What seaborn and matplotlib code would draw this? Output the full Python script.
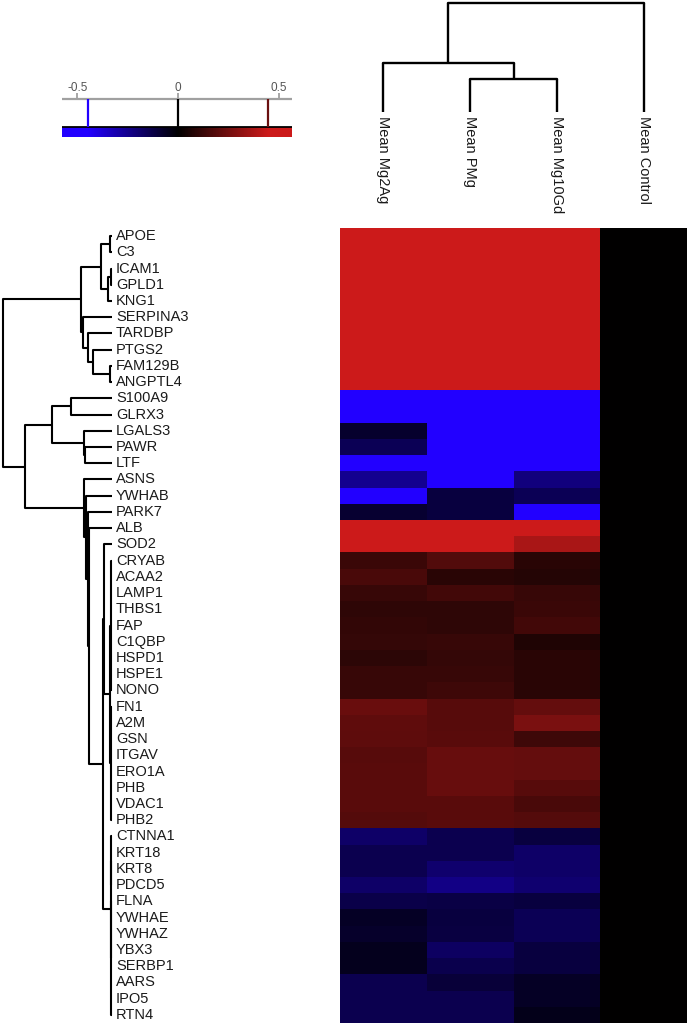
import numpy as np
import pandas as pd
import matplotlib
matplotlib.use("Agg")
import matplotlib.pyplot as plt
import matplotlib.transforms as mtransforms
from matplotlib.colors import LinearSegmentedColormap
import seaborn as sns

# row / column labels
genes = ["APOE", "C3", "ICAM1", "GPLD1", "KNG1", "SERPINA3", "TARDBP", "PTGS2",
         "FAM129B", "ANGPTL4", "S100A9", "GLRX3", "LGALS3", "PAWR", "LTF", "ASNS",
         "YWHAB", "PARK7", "ALB", "SOD2", "CRYAB", "ACAA2", "LAMP1", "THBS1", "FAP",
         "C1QBP", "HSPD1", "HSPE1", "NONO", "FN1", "A2M", "GSN", "ITGAV", "ERO1A",
         "PHB", "VDAC1", "PHB2", "CTNNA1", "KRT18", "KRT8", "PDCD5", "FLNA", "YWHAE",
         "YWHAZ", "YBX3", "SERBP1", "AARS", "IPO5", "RTN4"]
groups = ["Mean Mg2Ag", "Mean PMg", "Mean Mg10Gd", "Mean Control"]

mg2ag = [0.62, 0.60, 0.55, 0.56, 0.58, 0.52, 0.50, 0.49, 0.48, 0.48,
         -0.55, -0.53, -0.08, -0.15, -0.48, -0.25, -0.47, -0.085, 0.47, 0.46,
         0.13, 0.16, 0.12, 0.10, 0.11, 0.115, 0.095, 0.12, 0.12,
         0.23, 0.21, 0.205, 0.19, 0.195, 0.195, 0.195, 0.185,
         -0.18, -0.14, -0.14, -0.18, -0.13, -0.065, -0.075, -0.05, -0.05, -0.14, -0.14, -0.14]
pmg = [0.58, 0.57, 0.52, 0.53, 0.55, 0.50, 0.48, 0.47, 0.47, 0.46,
       -0.52, -0.50, -0.52, -0.50, -0.50, -0.48, -0.11, -0.11, 0.47, 0.46,
       0.18, 0.09, 0.145, 0.10, 0.10, 0.12, 0.115, 0.12, 0.135,
       0.19, 0.19, 0.195, 0.225, 0.225, 0.225, 0.195, 0.195,
       -0.14, -0.14, -0.19, -0.235, -0.12, -0.11, -0.115, -0.17, -0.135, -0.10, -0.14, -0.14]
mg10gd = [0.55, 0.56, 0.54, 0.54, 0.52, 0.49, 0.47, 0.46, 0.46, 0.46,
          -0.50, -0.49, -0.50, -0.48, -0.47, -0.22, -0.15, -0.46, 0.46, 0.37,
          0.09, 0.08, 0.12, 0.13, 0.145, 0.07, 0.09, 0.09, 0.09,
          0.22, 0.27, 0.135, 0.22, 0.22, 0.19, 0.16, 0.185,
          -0.11, -0.18, -0.18, -0.195, -0.11, -0.15, -0.15, -0.11, -0.11, -0.065, -0.065, -0.045]
control = [0.0] * len(genes)

# dendrograms: (height, child, child, ...), leaves are labels
va = tuple([0.01] + genes[20:29])
vb = tuple([0.008] + genes[29:37])
l1 = tuple([0.008] + genes[37:41])
l2 = tuple([0.006] + genes[41:49])
row_tree = (1.0,
            (0.287,
             (0.102, (0.0185, "APOE", "C3"), (0.037, (0.005, "ICAM1", "GPLD1"), "KNG1")),
             (0.269, "SERPINA3",
              (0.222, "TARDBP", (0.176, "PTGS2", (0.0185, "FAM129B", "ANGPTL4"))))),
            (0.796,
             (0.546, (0.38, "S100A9", "GLRX3"), (0.259, "LGALS3", (0.25, "PAWR", "LTF"))),
             (0.259, "ASNS",
              (0.241, "YWHAB",
               (0.222, "PARK7",
                (0.213, "ALB",
                 (0.086,
                  (0.074, "SOD2", (0.015, va, vb)),
                  (0.01, l1, l2))))))))
col_tree = (1.0, (0.45, "Mean Mg2Ag", (0.303, "Mean PMg", "Mean Mg10Gd")), "Mean Control")

cbar_ticks = [-0.5, 0, 0.5]
cbar_marks = [-0.45, 0, 0.45]
mark_colors = ["#2200ff", "#000000", "#6a1010"]

df = pd.DataFrame({groups[0]: mg2ag, groups[1]: pmg, groups[2]: mg10gd, groups[3]: control},
                  index=genes)

sns.set_style("white")
plt.rcParams["font.family"] = ["Liberation Sans", "DejaVu Sans"]

cmap = LinearSegmentedColormap.from_list("bkr", ["#2200ff", "#000000", "#cc1a1a"])
W, H = 688, 1026
fig = plt.figure(figsize=(W / 100, H / 100), dpi=100)


def px_axes(x0, y0, x1, y1):
    return fig.add_axes([x0 / W, 1 - y1 / H, (x1 - x0) / W, (y1 - y0) / H])


def draw_tree(ax, node, pos, vertical):
    # returns (position, height) of node; vertical=True -> column dendrogram
    if isinstance(node, str):
        return pos[node], 0.0
    h = node[0]
    kids = [draw_tree(ax, k, pos, vertical) for k in node[1:]]
    ps = [p for p, _ in kids]
    for p, kh in kids:
        if vertical:
            ax.plot([p, p], [kh, h], color="black", lw=1.7, clip_on=False, solid_capstyle="butt")
        else:
            ax.plot([kh, h], [p, p], color="black", lw=1.5, clip_on=False, solid_capstyle="butt")
    if vertical:
        ax.plot([min(ps), max(ps)], [h, h], color="black", lw=1.7, clip_on=False)
    else:
        ax.plot([h, h], [min(ps), max(ps)], color="black", lw=1.5, clip_on=False)
    return (min(ps) + max(ps)) / 2, h


# main heatmap
ax_h = px_axes(340, 228, 687, 1023)
sns.heatmap(df, ax=ax_h, cmap=cmap, vmin=-0.45, vmax=0.45, cbar=False,
            xticklabels=False, yticklabels=False)
ax_h.set_xlabel("")
ax_h.set_ylabel("")

# row labels
tr = mtransforms.blended_transform_factory(fig.transFigure, ax_h.transData)
for i, g in enumerate(genes):
    ax_h.text(116 / W, i + 0.5, g, transform=tr, ha="left", va="center",
              fontsize=10.5, color="#1a1a1a")

# row dendrogram
ax_r = px_axes(3, 228, 112, 1023)
draw_tree(ax_r, row_tree, {g: i + 0.5 for i, g in enumerate(genes)}, False)
ax_r.set_xlim(1.0, 0.0)
ax_r.set_ylim(len(genes), 0)
ax_r.axis("off")

# column dendrogram
ax_c = px_axes(340, 3, 687, 112)
draw_tree(ax_c, col_tree, {c: j + 0.5 for j, c in enumerate(groups)}, True)
ax_c.set_xlim(0, len(groups))
ax_c.set_ylim(0, 1.0)
ax_c.axis("off")
tc = mtransforms.blended_transform_factory(ax_c.transData, fig.transFigure)
for j, c in enumerate(groups):
    ax_c.text(j + 0.5, 1 - 116 / H, c, transform=tc, rotation=270, ha="center", va="top",
              fontsize=10.5, color="#1a1a1a")

# colour key
lo, hi = -0.577, 0.567
ax_k = px_axes(62, 78, 292, 137)
grad = np.linspace(lo, hi, 400)
ax_k.imshow(grad[np.newaxis, :], extent=[lo, hi, 137, 127], cmap=cmap, vmin=-0.45, vmax=0.45,
            aspect="auto", interpolation="bilinear")
ax_k.hlines(99, lo, hi, color="#a0a0a0", lw=1.6)
ax_k.hlines(126.5, lo, hi, color="black", lw=1.3)
ax_k.vlines(cbar_ticks, 93, 99, color="#a0a0a0", lw=1.3)
ax_k.vlines(cbar_marks, 99, 127, colors=mark_colors, lw=1.6)
for t in cbar_ticks:
    ax_k.text(t, 88, f"{t:g}", ha="center", va="center", fontsize=8.5, color="#555555")
ax_k.set_xlim(lo, hi)
ax_k.set_ylim(137, 78)
ax_k.axis("off")

fig.savefig("out.png", dpi=100)
